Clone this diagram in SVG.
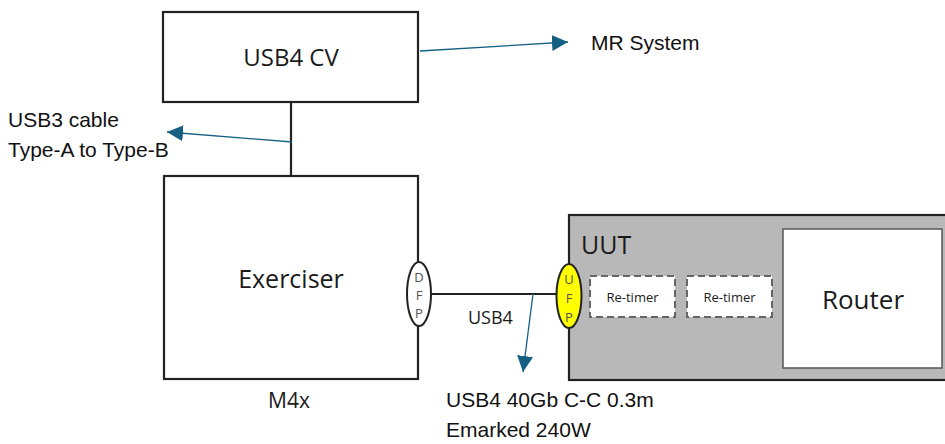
<svg xmlns="http://www.w3.org/2000/svg" width="945" height="444" viewBox="0 0 945 444">
<defs>
<marker id="ah" viewBox="0 0 10 10" refX="10" refY="5" markerWidth="16" markerHeight="16" markerUnits="userSpaceOnUse" orient="auto">
<path d="M0,0 L10,5 L0,10 Z" fill="#156082"/>
</marker>
<style>
.box{fill:#fff;stroke:#222;stroke-width:2.2}
.ln{fill:none;stroke:#222;stroke-width:2.2}
.arr{fill:none;stroke:#156082;stroke-width:1.3;marker-end:url(#ah)}
.t{font-family:"Open Sans","Liberation Sans",sans-serif;fill:#1a1a1a}
.l{font-family:"Liberation Sans",Arial,sans-serif;fill:#111;font-size:21px}
.port{font-family:"Open Sans","Liberation Sans",sans-serif;font-size:13px;fill:#555;text-anchor:middle}
.rt{fill:#fff;stroke:#666;stroke-width:2;stroke-dasharray:7,4}
</style>
</defs>
<g id="connectors">
<line class="ln" x1="291" y1="102" x2="291" y2="176"/>
<line class="ln" x1="431" y1="294" x2="557" y2="294"/>
<line class="arr" x1="420" y1="51" x2="568" y2="42"/>
<line class="arr" x1="292" y1="142" x2="167" y2="132"/>
<line class="arr" x1="533" y1="294" x2="523" y2="372"/>
</g>
<g id="usb4cv">
<rect class="box" x="163" y="12" width="255" height="90"/>
<text class="t" x="291" y="66" font-size="24" text-anchor="middle">USB4 CV</text>
</g>
<g id="exerciser">
<rect class="box" x="164" y="176" width="254" height="203"/>
<text class="t" x="291" y="288" font-size="25" text-anchor="middle">Exerciser</text>
</g>
<g id="dfp">
<ellipse cx="419" cy="294" rx="12" ry="32" fill="#fff" stroke="#222" stroke-width="2"/>
<text class="port" x="419" y="282">D</text>
<text class="port" x="419" y="300">F</text>
<text class="port" x="419" y="318">P</text>
</g>
<g id="uut">
<rect x="569" y="215" width="380" height="165" fill="#b8b8b8" stroke="#222" stroke-width="2.2"/>
<text class="t" x="581" y="254" font-size="25">UUT</text>
</g>
<g id="ufp">
<ellipse cx="569" cy="296" rx="12.5" ry="32" fill="#ffff00" stroke="#222" stroke-width="2"/>
<text class="port" x="569" y="284">U</text>
<text class="port" x="569" y="303">F</text>
<text class="port" x="569" y="322">P</text>
</g>
<g id="retimer1">
<rect class="rt" x="590" y="276" width="85" height="41"/>
<text class="t" x="632.5" y="302" font-size="13" text-anchor="middle" fill="#333">Re-timer</text>
</g>
<g id="retimer2">
<rect class="rt" x="687" y="276" width="85" height="41"/>
<text class="t" x="729.5" y="302" font-size="13" text-anchor="middle" fill="#333">Re-timer</text>
</g>
<g id="router">
<rect x="783" y="229" width="159" height="139" fill="#fff" stroke="#555" stroke-width="1.5"/>
<text class="t" x="863" y="309" font-size="26" text-anchor="middle">Router</text>
</g>
<g id="labels">
<text class="l" x="591" y="50">MR System</text>
<text class="l" x="8" y="127">USB3 cable</text>
<text class="l" x="8" y="157">Type-A to Type-B</text>
<text class="t" x="289" y="408" font-size="21" text-anchor="middle">M4x</text>
<text class="t" x="468" y="324" font-size="18">USB4</text>
<text class="l" x="446" y="407">USB4 40Gb C-C 0.3m</text>
<text class="l" x="446" y="437">Emarked 240W</text>
</g>
</svg>
